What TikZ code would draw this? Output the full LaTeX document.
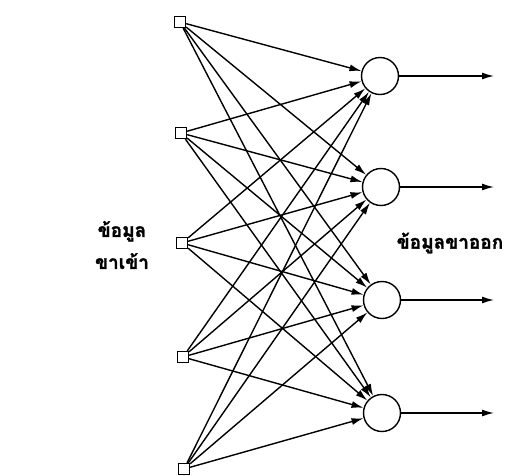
\documentclass[tikz,border=0pt]{standalone}
\usepackage{fontspec}
\newfontfamily\thaifont[Script=Thai, BoldFeatures={FakeBold=1.5}]{Loma}
\usetikzlibrary{arrows.meta}

\begin{document}
\begin{tikzpicture}[x=1pt, y=-1pt,
  inp/.style={draw, line width=1.3pt, minimum size=11pt, inner sep=0pt},
  neuron/.style={draw, circle, line width=1.4pt, minimum size=37pt, inner sep=0pt},
  arrow/.style={-{Latex[length=12pt, width=7pt]}, line width=1.4pt},
  label/.style={font=\thaifont\bfseries\fontsize{19}{32}\selectfont, align=center}
]
  \useasboundingbox (0,0) rectangle (507,475);

  % input squares
  \node[inp] (I1) at (180,22)  {};
  \node[inp] (I2) at (181,133) {};
  \node[inp] (I3) at (182,243) {};
  \node[inp] (I4) at (183,357) {};
  \node[inp] (I5) at (184,469) {};

  % output neurons
  \node[neuron] (O1) at (380,76)  {};
  \node[neuron] (O2) at (381,187) {};
  \node[neuron] (O3) at (382,300) {};
  \node[neuron] (O4) at (382,413) {};

  \coordinate (E1) at (494,76);
  \coordinate (E2) at (494,187);
  \coordinate (E3) at (494,300);
  \coordinate (E4) at (494,413);

  \draw[arrow] (I1) -- (O1);
  \draw[arrow] (I1) -- (O2);
  \draw[arrow] (I1) -- (O3);
  \draw[arrow] (I1) -- (O4);
  \draw[arrow] (I2) -- (O1);
  \draw[arrow] (I2) -- (O2);
  \draw[arrow] (I2) -- (O3);
  \draw[arrow] (I2) -- (O4);
  \draw[arrow] (I3) -- (O1);
  \draw[arrow] (I3) -- (O2);
  \draw[arrow] (I3) -- (O3);
  \draw[arrow] (I3) -- (O4);
  \draw[arrow] (I4) -- (O1);
  \draw[arrow] (I4) -- (O2);
  \draw[arrow] (I4) -- (O3);
  \draw[arrow] (I4) -- (O4);
  \draw[arrow] (I5) -- (O1);
  \draw[arrow] (I5) -- (O2);
  \draw[arrow] (I5) -- (O3);
  \draw[arrow] (I5) -- (O4);

  \draw[arrow] (O1) -- (E1);
  \draw[arrow] (O2) -- (E2);
  \draw[arrow] (O3) -- (E3);
  \draw[arrow] (O4) -- (E4);

  \node[label] (inlabel)  at (122,245) {ข้อมูล\\ขาเข้า};
  \node[label] (outlabel) at (450,243) {ข้อมูลขาออก};
\end{tikzpicture}
\end{document}
